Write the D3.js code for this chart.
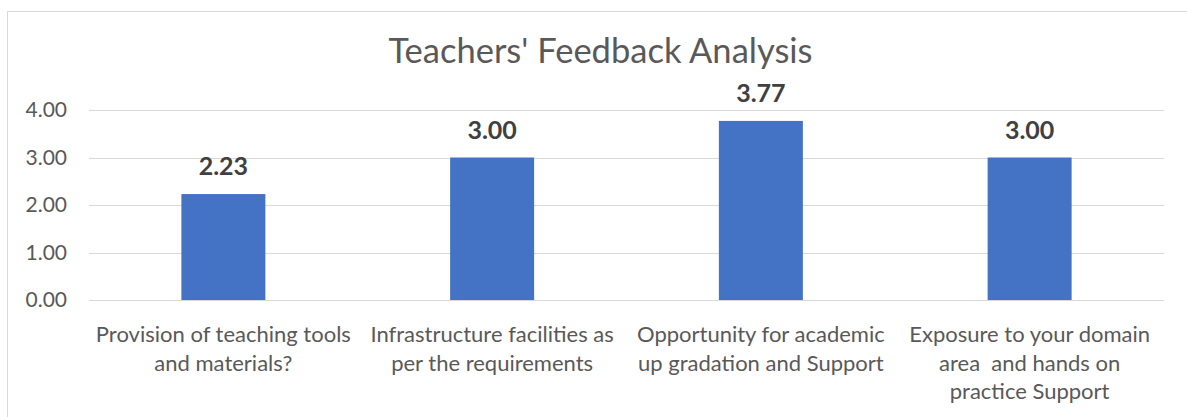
<!DOCTYPE html>
<html>
<head>
<meta charset="utf-8">
<script src="https://cdn.jsdelivr.net/npm/d3@7"></script>
<style>
  body { margin: 0; background: #fff; }
  svg text { font-family: Lato, "Open Sans", sans-serif; white-space: pre; }
</style>
</head>
<body>
<div class="chart"></div>
<script>
const title = "Teachers' Feedback Analysis";
const categories = [
    ["Provision of teaching tools", "and materials?"],
    ["Infrastructure facilities as", "per the requirements"],
    ["Opportunity for academic", "up gradation and Support"],
    ["Exposure to your domain", "area  and hands on", "practice Support"]
];
const values = [2.23, 3.00, 3.77, 3.00];
const yTicks = [0, 1, 2, 3, 4];

const svgWidth = 1187;
const svgHeight = 417;
const plotLeft = 89, plotRight = 1164, plotTop = 110, plotBottom = 300;

let svg = d3.select(".chart")
    .append("svg")
    .attr("width", svgWidth)
    .attr("height", svgHeight)

// chart border
svg.append("rect")
    .attr("x", 7.5)
    .attr("y", 11.5)
    .attr("width", 1250)
    .attr("height", 450)
    .style("fill", "none")
    .style("stroke", "#d9d9d9")

let xScale = d3.scaleBand()
    .domain(d3.range(values.length))
    .range([plotLeft, plotRight])
    .paddingInner(0.6875)
    .paddingOuter(0.34375)

let yScale = d3.scaleLinear()
    .domain([0, 4])
    .range([plotBottom, plotTop])

// gridlines
svg.append("g")
    .selectAll("line")
    .data(yTicks)
    .enter()
    .append("line")
    .attr("x1", plotLeft)
    .attr("x2", plotRight)
    .attr("y1", d => Math.round(yScale(d)) + 0.5)
    .attr("y2", d => Math.round(yScale(d)) + 0.5)
    .style("stroke", "#d9d9d9")
    .style("stroke-width", 1)

let yAxis = d3.axisLeft()
    .scale(yScale)
    .tickValues(yTicks)
    .tickFormat(d3.format(".2f"))
    .tickSize(0)
    .tickPadding(22)

let yAxisGroup = svg.append("g")
    .attr("transform", `translate(${plotLeft}, 0)`)
    .call(yAxis)

yAxisGroup.select(".domain").remove()
yAxisGroup.selectAll("text")
    .style("font-size", "21px")
    .style("font-family", "Lato, sans-serif")
    .style("fill", "#595959")

svg.selectAll("rect.bar")
    .data(values)
    .enter()
    .append("rect")
    .attr("class", "bar")
    .attr("x", (d, i) => xScale(i))
    .attr("y", d => yScale(d))
    .attr("width", xScale.bandwidth())
    .attr("height", d => yScale(0) - yScale(d))
    .style("fill", "#4472c4")

svg.selectAll("text.value")
    .data(values)
    .enter()
    .append("text")
    .attr("class", "value")
    .attr("x", (d, i) => xScale(i) + xScale.bandwidth() / 2)
    .attr("y", d => yScale(d) - 19)
    .attr("text-anchor", "middle")
    .style("font-size", "25px")
    .style("font-weight", "bold")
    .style("fill", "#404040")
    .text(d => d.toFixed(2))

// category labels
let labels = svg.selectAll("text.cat")
    .data(categories)
    .enter()
    .append("text")
    .attr("class", "cat")
    .attr("text-anchor", "middle")
    .style("font-size", "22px")
    .style("fill", "#595959")

labels.selectAll("tspan")
    .data((d, i) => d.map(line => ({line, i})))
    .enter()
    .append("tspan")
    .attr("x", d => xScale(d.i) + xScale.bandwidth() / 2)
    .attr("y", (d, j) => 342 + j * 28.5)
    .text(d => d.line)

svg.append("text")
    .attr("x", (plotLeft + plotRight) / 2 - 26)
    .attr("y", 63)
    .attr("text-anchor", "middle")
    .style("font-size", "34.5px")
    .style("fill", "#595959")
    .text(title)
</script>
</body>
</html>
